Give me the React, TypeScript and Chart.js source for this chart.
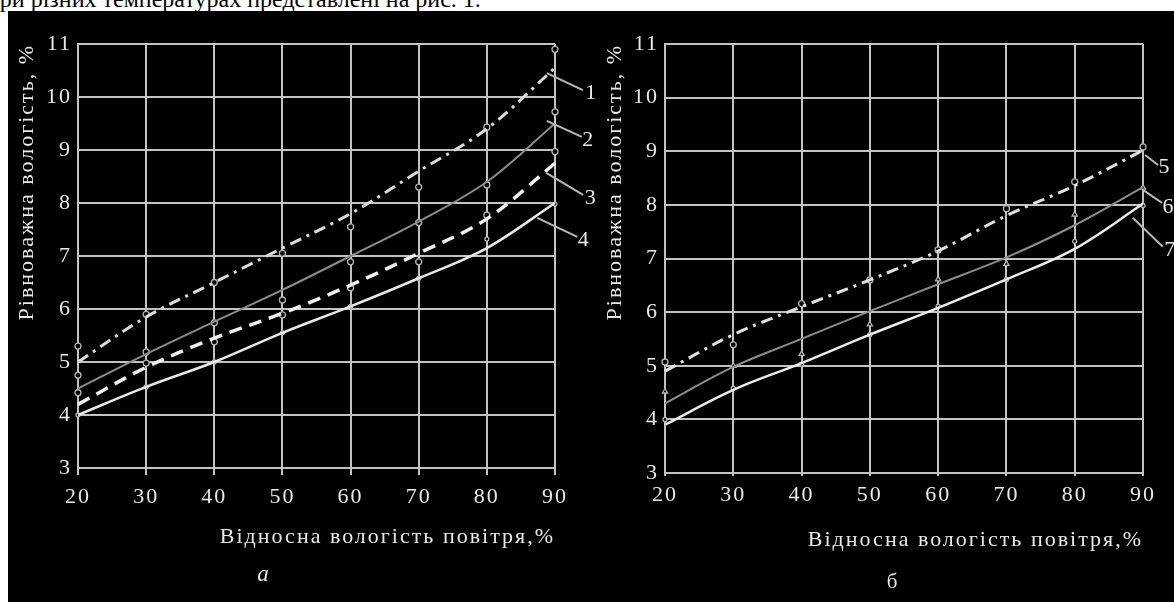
import React, { useEffect, useRef } from "react";
import { Chart, registerables } from "chart.js";

Chart.register(...registerables);

// ---------- data ----------
const humidity = [20, 30, 40, 50, 60, 70, 80, 90];

// panel "а": fitted curves
const curve1 = [5.0, 5.85, 6.5, 7.15, 7.8, 8.6, 9.4, 10.55];
const curve2 = [4.5, 5.15, 5.76, 6.36, 7.0, 7.65, 8.4, 9.5];
const curve3 = [4.2, 4.9, 5.45, 5.92, 6.45, 7.05, 7.7, 8.75];
const curve4 = [4.0, 4.53, 5.0, 5.55, 6.05, 6.58, 7.15, 8.0];
// panel "а": experimental points
const points1 = [5.3, 5.9, 6.5, 7.05, 7.55, 8.3, 9.43, 10.9];
const points2 = [4.75, 5.19, 5.74, 6.17, 6.89, 7.63, 8.34, 9.72];
const points3 = [4.42, 4.98, 5.38, 5.89, 6.4, 6.89, 7.77, 8.97];
const points4 = [4.0, 4.53, 5.0, 5.55, 6.05, 6.58, 7.32, 7.98];

// panel "б": fitted curves
const curve5 = [4.9, 5.58, 6.1, 6.6, 7.14, 7.8, 8.36, 9.02];
const curve6 = [4.3, 4.98, 5.5, 6.02, 6.52, 7.02, 7.62, 8.33];
const curve7 = [3.9, 4.55, 5.05, 5.58, 6.08, 6.61, 7.18, 8.02];
// panel "б": experimental points
const points5 = [5.07, 5.39, 6.16, 6.6, 7.16, 7.93, 8.43, 9.08];
const points6 = [4.52, 5.0, 5.22, 5.77, 6.61, 6.9, 7.82, 8.32];
const points7 = [4.0, 4.58, 5.03, 5.58, 6.11, 6.61, 7.32, 7.99];

const curveNamesA = ["1", "2", "3", "4"];
const curveNamesB = ["5", "6", "7"];

const xTitle = "Відносна вологість повітря,%";
const yTitle = "Рівноважна вологість, %";
const captionA = "а";
const captionB = "б";
const topText = "при різних температурах представлені на рис. 1.";

// ---------- styles ----------
const FONT = '"Liberation Serif", "DejaVu Serif", serif';
const GRID = "#c2c2c2";
const TEXT = "#e8e8e8";

const toXY = (ys: number[]) => ys.map((y, i) => ({ x: humidity[i], y }));

const fitted = (data: number[], color: string, width: number, dash: number[]) => ({
  type: "line" as const,
  data: toXY(data),
  borderColor: color,
  borderWidth: width,
  borderDash: dash,
  pointRadius: 0,
  tension: 0.35,
  fill: false,
  clip: false as any,
});

const marks = (data: number[], style: string, radius: number) => ({
  type: "line" as const,
  data: toXY(data),
  showLine: false,
  pointStyle: style,
  pointRadius: radius,
  pointBorderWidth: 1.3,
  pointBorderColor: "#b5b5b5",
  pointBackgroundColor: "#000",
  clip: false as any,
});

const spacingPlugin = {
  id: "spacing",
  beforeDraw(chart: any) {
    (chart.ctx as any).letterSpacing = "2px";
  },
  afterDraw(chart: any) {
    (chart.ctx as any).letterSpacing = "0px";
  },
};

const labelsPlugin = {
  id: "curveLabels",
  afterDraw(chart: any, _args: any, opts: any) {
    const ctx = chart.ctx as CanvasRenderingContext2D;
    const xs = chart.scales.x;
    const ys = chart.scales.y;
    ctx.save();
    (ctx as any).letterSpacing = "0px";
    ctx.strokeStyle = "#b8b8b8";
    ctx.lineWidth = 2;
    ctx.fillStyle = TEXT;
    ctx.font = `22px ${FONT}`;
    ctx.textAlign = "center";
    ctx.textBaseline = "middle";
    (opts.labels || []).forEach((l: any) => {
      const px = xs.getPixelForValue(l.x);
      const py = ys.getPixelForValue(l.y);
      ctx.beginPath();
      ctx.moveTo(px, py);
      ctx.lineTo(px + l.lx, py + l.ly);
      ctx.stroke();
      ctx.fillText(l.text, px + l.tx, py + l.ty);
    });
    if (opts.caption) {
      ctx.font = opts.captionFont;
      ctx.fillText(
        opts.caption,
        chart.chartArea.left + opts.captionDx,
        chart.chartArea.bottom + opts.captionDy
      );
    }
    ctx.restore();
  },
};

function makeConfig(p: any) {
  return {
    type: "line" as const,
    data: { datasets: p.datasets },
    plugins: [spacingPlugin, labelsPlugin],
    options: {
      animation: false as const,
      responsive: false,
      events: [],
      layout: { padding: { left: 0, right: p.padRight, top: 33, bottom: 0 } },
      plugins: {
        legend: { display: false },
        tooltip: { enabled: false },
        curveLabels: {
          labels: p.labels,
          caption: p.caption,
          captionFont: p.captionFont,
          captionDx: p.captionDx,
          captionDy: p.captionDy,
        },
      },
      scales: {
        x: {
          type: "linear" as const,
          min: 20,
          max: 90,
          afterFit: (s: any) => {
            s.height = p.xHeight;
          },
          ticks: {
            stepSize: 10,
            color: TEXT,
            font: { family: FONT, size: 22 },
            padding: p.xTickPad,
            maxRotation: 0,
            autoSkip: false,
          },
          grid: { color: GRID, lineWidth: 2, tickLength: p.tickLen, drawTicks: true },
          border: { color: GRID, width: 2 },
          title: {
            display: true,
            text: xTitle,
            align: "end" as const,
            color: TEXT,
            font: { family: FONT, size: 22 },
            padding: { top: 0, bottom: p.xTitlePad },
          },
        },
        y: {
          type: "linear" as const,
          min: 3,
          max: 11,
          afterFit: (s: any) => {
            s.width = p.yWidth;
          },
          ticks: {
            stepSize: 1,
            color: TEXT,
            font: { family: FONT, size: 22 },
            padding: 6,
          },
          grid: { color: GRID, lineWidth: 2, drawTicks: false },
          border: { color: GRID, width: 2 },
          title: {
            display: true,
            text: yTitle,
            align: "end" as const,
            color: TEXT,
            font: { family: FONT, size: 22 },
            padding: { top: p.yTitlePad, bottom: 0 },
          },
        },
      },
    },
  };
}

const DASHDOT = [12, 6, 3, 6];

const configA = () =>
  makeConfig({
    datasets: [
      fitted(curve1, "#dcdcdc", 3, DASHDOT),
      fitted(curve2, "#8c8c8c", 2, []),
      fitted(curve3, "#f0f0f0", 3.5, [13, 8]),
      fitted(curve4, "#e8e8e8", 2.5, []),
      marks(points1, "circle", 3),
      marks(points2, "circle", 3),
      marks(points3, "circle", 3),
      marks(points4, "circle", 2),
    ],
    labels: [
      { text: curveNamesA[0], x: 88.8, y: 10.45, lx: 36, ly: 17, tx: 44, ty: 20 },
      { text: curveNamesA[1], x: 88.8, y: 9.55, lx: 35, ly: 16, tx: 41, ty: 19 },
      { text: curveNamesA[2], x: 88.7, y: 8.57, lx: 37, ly: 22, tx: 44, ty: 25 },
      { text: curveNamesA[3], x: 87.4, y: 7.72, lx: 40, ly: 19, tx: 46, ty: 22 },
    ],
    caption: captionA,
    captionFont: `italic 23px ${FONT}`,
    captionDx: 185,
    captionDy: 107,
    padRight: 45,
    xHeight: 134,
    yWidth: 70,
    xTickPad: 9,
    tickLen: 7,
    xTitlePad: 52,
    yTitlePad: 6,
  });

const configB = () =>
  makeConfig({
    datasets: [
      fitted(curve5, "#e0e0e0", 3, DASHDOT),
      fitted(curve6, "#8c8c8c", 2, []),
      fitted(curve7, "#ececec", 2.5, []),
      marks(points5, "circle", 3),
      marks(points6, "triangle", 3),
      marks(points7, "circle", 2),
    ],
    labels: [
      { text: curveNamesB[0], x: 90.3, y: 8.93, lx: 13, ly: 10, tx: 19, ty: 12 },
      { text: curveNamesB[1], x: 90.0, y: 8.28, lx: 19, ly: 13, tx: 25, ty: 17 },
      { text: curveNamesB[2], x: 88.5, y: 7.76, lx: 30, ly: 29, tx: 37, ty: 32 },
    ],
    caption: captionB,
    captionFont: `21px ${FONT}`,
    captionDx: 227,
    captionDy: 109,
    padRight: 31,
    xHeight: 129,
    yWidth: 65,
    xTickPad: 6,
    tickLen: 3,
    xTitlePad: 49,
    yTitlePad: 2,
  });

function Panel(props: { make: () => any; left: number; top: number; width: number; height: number }) {
  const ref = useRef<HTMLCanvasElement>(null);
  useEffect(() => {
    const chart = new Chart(ref.current as HTMLCanvasElement, props.make());
    return () => chart.destroy();
  }, []);
  return (
    <canvas
      ref={ref}
      width={props.width}
      height={props.height}
      style={{
        position: "absolute",
        left: props.left,
        top: props.top,
        width: props.width,
        height: props.height,
      }}
    />
  );
}

export default function App() {
  return (
    <div
      style={{
        position: "fixed",
        left: 0,
        top: 0,
        width: 1174,
        height: 602,
        background: "#fff",
        overflow: "hidden",
      }}
    >
      <div
        style={{
          position: "absolute",
          left: -13,
          top: -13,
          font: `24px ${FONT}`,
          lineHeight: "24px",
          whiteSpace: "nowrap",
          color: "#000",
        }}
      >
        {topText}
      </div>
      <div
        style={{
          position: "absolute",
          left: 8,
          top: 11,
          width: 1166,
          height: 591,
          background: "#000",
        }}
      />
      <Panel make={configA} left={8} top={11} width={592} height={591} />
      <Panel make={configB} left={600} top={11} width={574} height={591} />
    </div>
  );
}
